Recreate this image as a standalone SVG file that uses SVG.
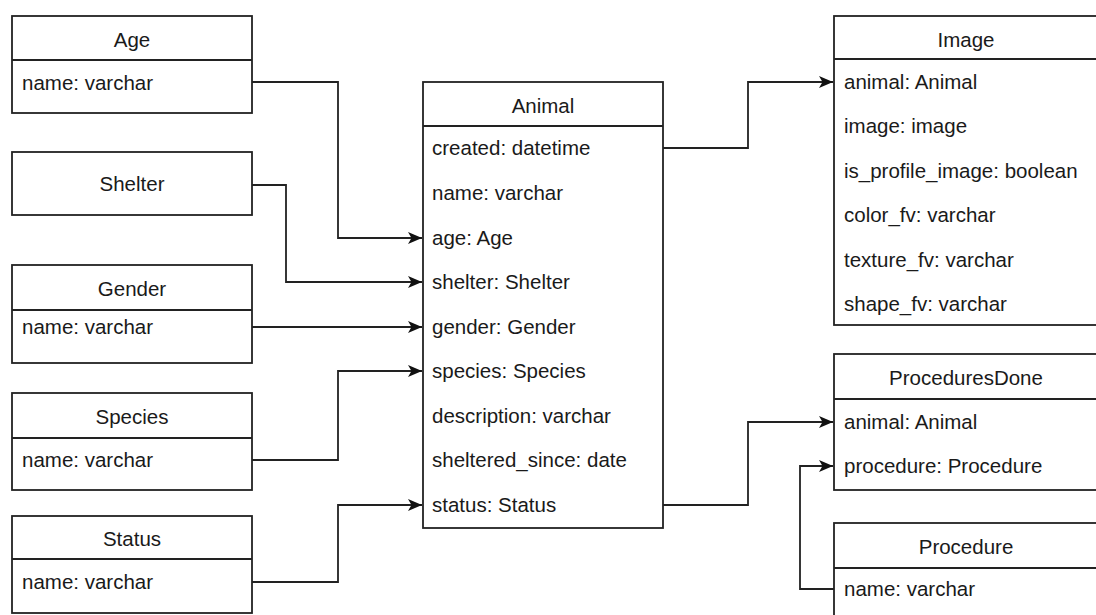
<svg xmlns="http://www.w3.org/2000/svg" width="1096" height="615" viewBox="0 0 1096 615">
<style>
.box{fill:#fff;stroke:#222;stroke-width:1.8}
.sep{stroke:#222;stroke-width:1.8}
.t{font-family:"Liberation Sans",Arial,sans-serif;font-size:20.5px;fill:#1a1a1a}
.h{text-anchor:middle}
.c{fill:none;stroke:#222;stroke-width:1.8}
</style>
<defs>
<marker id="arr" viewBox="0 0 14 12" refX="14" refY="6" markerWidth="14" markerHeight="12" markerUnits="userSpaceOnUse" orient="auto">
<path d="M0,0 L14,6 L0,12 L3.5,6 Z" fill="#111"/>
</marker>
</defs>
<rect width="1096" height="615" fill="#fff"/>
<g id="connectors">
<path class="c" d="M252,82 H338 V238 H422" marker-end="url(#arr)"/>
<path class="c" d="M252,185 H286 V282 H422" marker-end="url(#arr)"/>
<path class="c" d="M252,327 H422" marker-end="url(#arr)"/>
<path class="c" d="M252,460 H338 V371 H422" marker-end="url(#arr)"/>
<path class="c" d="M252,582 H338 V505 H422" marker-end="url(#arr)"/>
<path class="c" d="M663,148 H748 V82 H833" marker-end="url(#arr)"/>
<path class="c" d="M663,505 H748 V422 H833" marker-end="url(#arr)"/>
<path class="c" d="M834,589 H800 V466 H833" marker-end="url(#arr)"/>
</g>
<g id="age">
<rect class="box" x="12" y="16" width="240" height="97"/>
<line class="sep" x1="12" y1="60" x2="252" y2="60"/>
<text class="t h" x="132" y="47">Age</text>
<text class="t" x="22" y="90">name: varchar</text>
</g>
<g id="shelter">
<rect class="box" x="12" y="152" width="240" height="63"/>
<text class="t h" x="132" y="191">Shelter</text>
</g>
<g id="gender">
<rect class="box" x="12" y="265" width="240" height="98"/>
<line class="sep" x1="12" y1="310" x2="252" y2="310"/>
<text class="t h" x="132" y="296">Gender</text>
<text class="t" x="22" y="334">name: varchar</text>
</g>
<g id="species">
<rect class="box" x="12" y="393" width="240" height="97"/>
<line class="sep" x1="12" y1="438" x2="252" y2="438"/>
<text class="t h" x="132" y="424">Species</text>
<text class="t" x="22" y="467">name: varchar</text>
</g>
<g id="status">
<rect class="box" x="12" y="516" width="240" height="97"/>
<line class="sep" x1="12" y1="559" x2="252" y2="559"/>
<text class="t h" x="132" y="546">Status</text>
<text class="t" x="22" y="589">name: varchar</text>
</g>
<g id="animal">
<rect class="box" x="423" y="82" width="240" height="446"/>
<line class="sep" x1="423" y1="126" x2="663" y2="126"/>
<text class="t h" x="543" y="113">Animal</text>
<text class="t" x="432" y="155">created: datetime</text>
<text class="t" x="432" y="200">name: varchar</text>
<text class="t" x="432" y="245">age: Age</text>
<text class="t" x="432" y="289">shelter: Shelter</text>
<text class="t" x="432" y="334">gender: Gender</text>
<text class="t" x="432" y="378">species: Species</text>
<text class="t" x="432" y="423">description: varchar</text>
<text class="t" x="432" y="467">sheltered_since: date</text>
<text class="t" x="432" y="512">status: Status</text>
</g>
<g id="image">
<rect class="box" x="834" y="16" width="280" height="309"/>
<line class="sep" x1="834" y1="59" x2="1114" y2="59"/>
<text class="t h" x="966" y="47">Image</text>
<text class="t" x="844" y="89">animal: Animal</text>
<text class="t" x="844" y="133">image: image</text>
<text class="t" x="844" y="178">is_profile_image: boolean</text>
<text class="t" x="844" y="222">color_fv: varchar</text>
<text class="t" x="844" y="267">texture_fv: varchar</text>
<text class="t" x="844" y="311">shape_fv: varchar</text>
</g>
<g id="proceduresdone">
<rect class="box" x="834" y="354" width="280" height="136"/>
<line class="sep" x1="834" y1="399" x2="1114" y2="399"/>
<text class="t h" x="966" y="385">ProceduresDone</text>
<text class="t" x="844" y="429">animal: Animal</text>
<text class="t" x="844" y="473">procedure: Procedure</text>
</g>
<g id="procedure">
<rect class="box" x="834" y="523" width="280" height="100"/>
<line class="sep" x1="834" y1="568" x2="1114" y2="568"/>
<text class="t h" x="966" y="554">Procedure</text>
<text class="t" x="844" y="596">name: varchar</text>
</g>
</svg>
